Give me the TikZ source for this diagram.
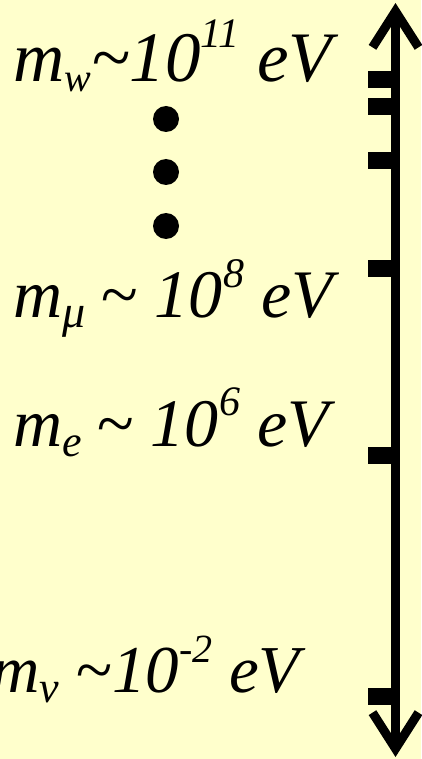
\documentclass[tikz,border=0pt]{standalone}
\usepackage{fontspec}
\setmainfont{Liberation Serif}
\usepackage{xcolor}
\usetikzlibrary{arrows.meta}

\definecolor{paleyellow}{RGB}{255,255,204}

% sub- and superscripts of the mass labels: size, text / raise, size, text
\newcommand{\masssub}[2]{\raisebox{-10pt}{\fontsize{#1}{#1}\selectfont #2}}
\newcommand{\masssup}[3]{\raisebox{#1}{\fontsize{#2}{#2}\selectfont #3}}
\newcommand{\tld}{\symbol{"7E}}

\tikzset{
  mass/.style={anchor=base west, inner sep=0pt, font=\fontsize{#1}{#1}\selectfont\itshape},
  dot/.style={circle, fill=black, inner sep=0pt, minimum size=26pt},
  axis/.style={line width=9pt, {Straight Barb[length=36pt,width=46pt]}-{Straight Barb[length=36pt,width=46pt]}},
}

\begin{document}
\begin{tikzpicture}[x=1pt,y=-1pt]
\fill[paleyellow] (0,0) rectangle (421,759);
\useasboundingbox (0,0) rectangle (421,759);

% energy axis
\coordinate (bot) at (395.5,757);
\coordinate (top) at (395.5,3);
\draw[axis] (bot) -- (top);
\foreach \y in {80,107,161,268,455,696}
  \fill (368,\y-8.5) rectangle (396,\y+8.5);

% masses
\node[mass=71] (mw) at (13,82) {m\masssub{40}{w}\tld10\masssup{34pt}{42}{11} eV};
\node[mass=68] (mmu) at (13,317) {m\masssub{46}{μ}\kern-2pt{} \tld{} 10\kern1pt\masssup{30pt}{42}{8} eV};
\node[mass=68] (me) at (13,446) {m\masssub{44}{e}\kern-2pt{} \tld{} 10\kern1pt\masssup{31pt}{42}{6} eV};
\node[mass=67] (mnu) at (-9,692) {m\masssub{44}{ν} \tld10\masssup{30pt}{40}{-2} eV};

% dots
\node[dot] (d1) at (166,119) {};
\node[dot] (d2) at (166,172) {};
\node[dot] (d3) at (166,226) {};
\end{tikzpicture}
\end{document}
